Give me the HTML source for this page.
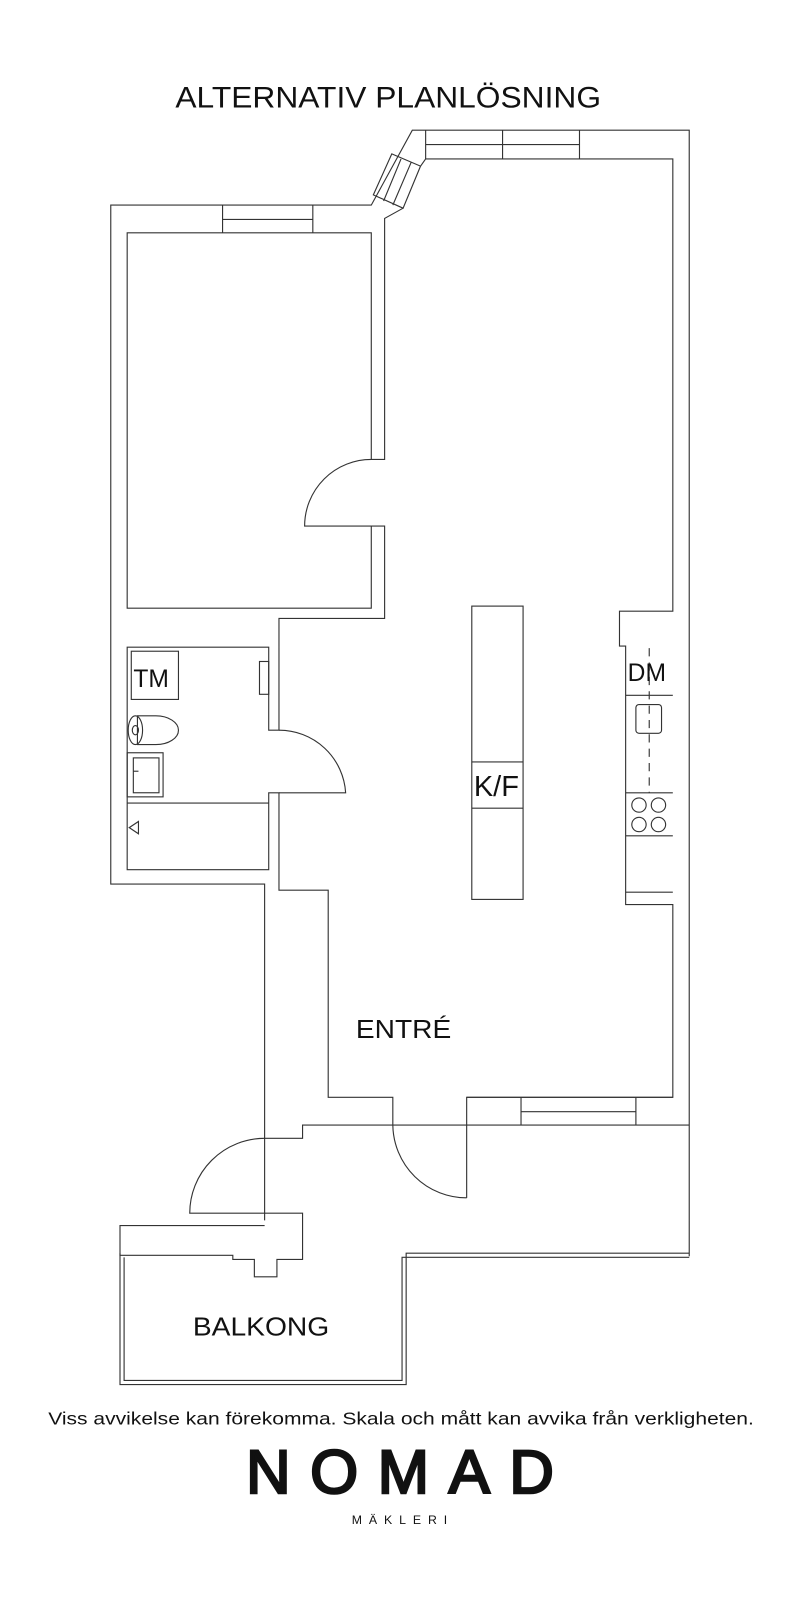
<!DOCTYPE html>
<html><head><meta charset="utf-8"><style>
html,body{margin:0;padding:0;background:#fff}
svg{display:block}
text{font-family:"Liberation Sans",Arial,sans-serif;fill:#111}
</style></head><body>
<svg width="800" height="1605" viewBox="0 0 780 1565" preserveAspectRatio="none" xmlns="http://www.w3.org/2000/svg">
<g fill="none" stroke="#333" stroke-width="1.1">
<path d="M258 1190 V862 H108 V200 H362 L402 127 H672 V1225"/>
<path d="M217 200 V227 M305 200 V227 M217 214 H305"/>
<path d="M415 127 V155 M490 127 V155 M565 127 V155 M415 141 H565"/>
<path d="M382 150 L410 162 L393 203 L364 190 Z M391 155 L374 196 M401 158 L383 200"/>
<path d="M410 162 L415 155 H656 V596 H604 V630 H610 V882 H656 V1070 H455 V1168"/>
<path d="M393 203 L375 213 V448 H362 V227 H124 V593 H362 V513 H375 V603 H272 V712 H262 V631 H124 V848 H262 V773 H272 V868 H320 V1070 H383 V1097"/>
<path d="M362 448 A65 65 0 0 0 297 513 H362"/>
<path d="M272 712 A65 65 0 0 1 337 773 H272"/>
<rect x="128" y="635" width="46" height="47"/>
<rect x="253" y="645" width="9" height="32"/>
<path d="M124 783 H262"/>
<path d="M126 807 L135 801 V813 Z"/>
<path d="M134 698 H152 A22 14 0 0 1 152 726 H134 Z"/>
<ellipse cx="132" cy="712" rx="7" ry="14"/>
<ellipse cx="132" cy="712" rx="3" ry="4.5"/>
<rect x="124" y="734" width="35" height="43"/>
<rect x="130" y="739" width="25" height="34"/>
<path d="M130 752 H135"/>
<path d="M455 1070 H656 M508 1070 V1097 M620 1070 V1097 M508 1084 H620"/>
<path d="M383 1097 A72 72 0 0 0 455 1168"/>
<path d="M672 1097 H295 V1110 H258 M258 1110 A73 73 0 0 0 185 1183 H295 V1228 H270 V1245 H248 V1228 H227 V1224 H117 V1195 H258"/>
<path d="M117 1222 V1350 H396 V1222 H672 M121 1226 V1346 H392 V1226 H672"/>
<rect x="460" y="591" width="50" height="286"/>
<path d="M460 743 H510 M460 788 H510"/>
<path d="M610 678 H656 M610 773 H656 M610 815 H656 M610 870 H656"/>
<rect x="620" y="687" width="25" height="28" rx="3"/>
<path d="M633 632 V773" stroke-dasharray="8 6"/>
<circle cx="623" cy="785" r="7"/><circle cx="642" cy="785" r="7"/>
<circle cx="623" cy="804" r="7"/><circle cx="642" cy="804" r="7"/>
</g>
<text x="171" y="105" font-size="29" textLength="415" lengthAdjust="spacingAndGlyphs">ALTERNATIV PLANLÖSNING</text>
<text x="130" y="670" font-size="24">TM</text>
<text x="612" y="664" font-size="24">DM</text>
<text x="462" y="776" font-size="28" textLength="44" lengthAdjust="spacingAndGlyphs">K/F</text>
<text x="347" y="1012" font-size="25" textLength="93" lengthAdjust="spacingAndGlyphs">ENTRÉ</text>
<text x="188" y="1302" font-size="25" textLength="133" lengthAdjust="spacingAndGlyphs">BALKONG</text>
<text x="47" y="1389" font-size="17.5" textLength="688" lengthAdjust="spacingAndGlyphs">Viss avvikelse kan förekomma. Skala och mått kan avvika från verkligheten.</text>
<text x="240" y="1456" font-size="60" stroke="#111" stroke-width="2.5" textLength="300" lengthAdjust="spacing" fill="#111">NOMAD</text>
<text x="343" y="1486" font-size="12" textLength="93" lengthAdjust="spacing">MÄKLERI</text>
</svg>
</body></html>
